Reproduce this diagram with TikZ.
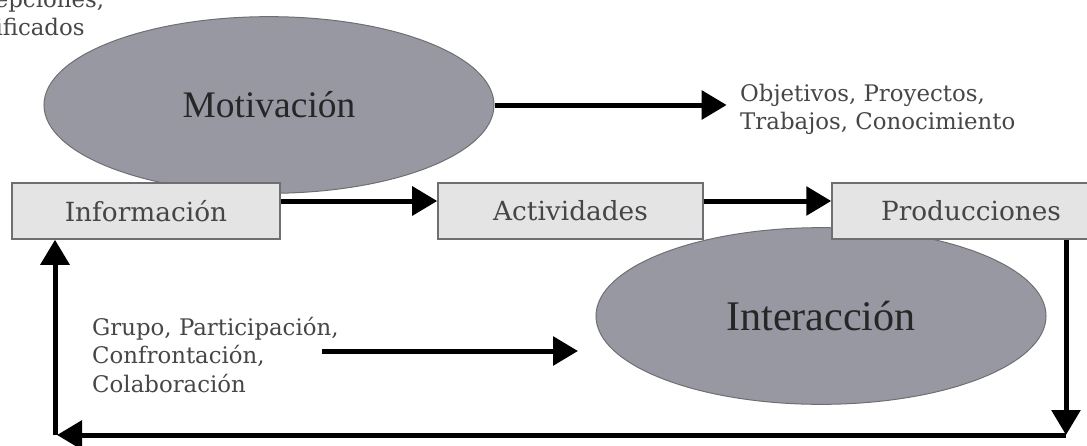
\documentclass[tikz,border=0pt]{standalone}
\usepackage{fontspec}
\setmainfont{DejaVu Serif}
\newfontfamily\timesfont{Liberation Serif}
\usetikzlibrary{shapes.geometric,arrows.meta}
\definecolor{blobgray}{RGB}{152,152,163}
\definecolor{boxgray}{RGB}{228,228,228}
\definecolor{edgegray}{RGB}{110,110,115}
\definecolor{textgray}{RGB}{70,70,70}

\begin{document}
\begin{tikzpicture}[x=0.03cm,y=-0.03cm,
    blob/.style={ellipse,draw=edgegray,fill=blobgray,line width=0.03cm,inner sep=0pt,
      minimum width=13.5cm,minimum height=5.3cm,
      font=\timesfont\fontsize{32}{36}\selectfont,text=black!85},
    box/.style={rectangle,draw=edgegray,fill=boxgray,line width=0.045cm,inner sep=0pt,
      minimum height=1.68cm,font=\fontsize{22.5}{26}\selectfont,text=textgray},
    note/.style={align=left,inner sep=0pt,font=\fontsize{19.5}{24}\selectfont,text=textgray},
    flow/.style={line width=0.15cm,-{Triangle[length=0.75cm,width=0.85cm]}}]

  \useasboundingbox (0,0) rectangle (1087,446);
  \clip (0,0) rectangle (1087,446);

  % the two ellipses lie behind the boxes
  \node [blob] (mot) at (269,105) {Motivación};
  \node [blob,font=\timesfont\fontsize{36}{40}\selectfont] (inter) at (821,316) {Interacción};

  \node [box,minimum width=8.04cm] (info) at (146,211) {Información};
  \node [box,minimum width=7.95cm] (act) at (570.5,211) {Actividades};
  \node [box,minimum width=8.34cm] (prod) at (971,211) {Producciones};

  \node [note,anchor=west] (percep) at (-57,16) {Percepciones,\\Significados};
  \node [note,anchor=west] (goals) at (740,109) {Objetivos, Proyectos,\\Trabajos, Conocimiento};
  \node [note,anchor=west] (group) at (92,355) {Grupo, Participación,\\Confrontación,\\Colaboración};

  \coordinate (g1) at (322,351);
  \coordinate (g2) at (578,351);
  \coordinate (c1) at (1066,435);
  \coordinate (c2) at (57,435);
  \coordinate (c3) at (55,435);

  \draw [flow] ([yshift=0.3cm]info.east) -- ([yshift=0.3cm]act.west);
  \draw [flow] ([yshift=0.3cm]act.east) -- ([yshift=0.3cm]prod.west);
  \draw [flow,shorten >=0.4cm] (mot.east) -- (mot.east -| goals.west);
  \draw [flow] (g1) -- (g2);

  % feedback loop back to the first box
  \draw [flow] (prod.south -| c1) -- (c1);
  \draw [flow] (c1) -- (c2);
  \draw [flow] (c3) -- (info.south -| c3);
\end{tikzpicture}
\end{document}
